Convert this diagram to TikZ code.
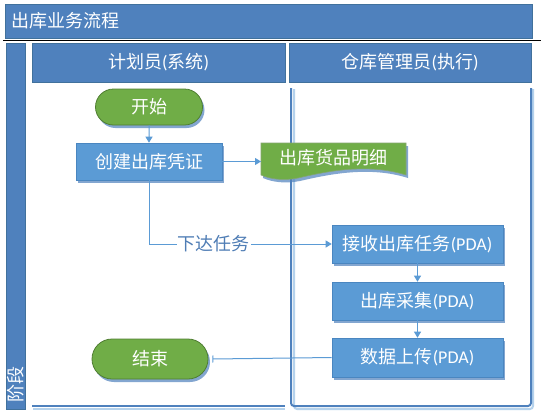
\documentclass[tikz,border=0pt]{standalone}
\usepackage{fontspec}
\setmainfont{Carlito}
\newfontfamily\cjk{Noto Sans CJK SC}
\usetikzlibrary{arrows.meta,shapes.misc,shadows}
\definecolor{hdr}{HTML}{4F81BD}
\definecolor{hdrline}{HTML}{41719C}
\definecolor{boxc}{HTML}{5B9BD5}
\definecolor{boxline}{HTML}{4A86C0}
\definecolor{grn}{HTML}{70AD47}
\definecolor{grnline}{HTML}{507E32}
\definecolor{shd}{HTML}{4F81BD}
\definecolor{lnk}{HTML}{5B9BD5}
\definecolor{lbl}{HTML}{4F7DB5}
\tikzset{
  hdrbox/.style={fill=hdr,draw=hdrline,line width=0.6pt},
  bigtext/.style={font=\fontsize{18}{20}\selectfont},
  hdrtext/.style={text=white,bigtext},
  myshadow/.style={drop shadow={shadow xshift=2pt,shadow yshift=-3pt,fill=shd,opacity=0.7}},
  stepbox/.style={rectangle,fill=boxc,draw=boxline,line width=0.6pt,text=white,
     bigtext,minimum width=171pt,minimum height=38pt,inner sep=0pt,myshadow},
  termbox/.style={rounded rectangle,fill=grn,draw=grnline,line width=0.8pt,text=white,
     bigtext,inner sep=0pt,myshadow},
  link/.style={draw=lnk,line width=1pt,-{Triangle[length=6pt,width=7pt]}},
  laneline/.style={draw=hdr,line width=2pt},
  laneshd/.style={draw=boxc!45,line width=2pt},
}
\begin{document}
\begin{tikzpicture}[x=1pt,y=-1pt]
\useasboundingbox (0,0) rectangle (541,418);
\fill[white] (0,0) rectangle (541,418);
% title
\path[hdrbox] (5,4) rectangle (532,38);
\node[hdrtext,anchor=west] (title) at (8,21) {\cjk 出库业务流程};
\draw[black,line width=0.9pt] (3,40.5) -- (541,40.5);
% left bar
\path[hdrbox] (6,43) rectangle (25,409);
\node[hdrtext,rotate=90] (phase) at (16,384) {\cjk 阶段};
% lane headers
\path[hdrbox] (32,43) rectangle (285,82);
\node[hdrtext] (lane1) at (158.5,62.5) {{\cjk 计划员}({\cjk 系统})};
\path[hdrbox] (289,43) rectangle (531,82);
\node[hdrtext] (lane2) at (410,62.5) {{\cjk 仓库管理员}({\cjk 执行})};
% lane bodies
\draw[laneshd] (33,409) -- (285,409);
\draw[laneshd,rounded corners=3pt] (294,89) -- (294,409) -- (533,409) -- (533,89);
\draw[laneline] (32,406) -- (285,406);
\draw[laneline,rounded corners=3pt] (291,88) -- (291,406) -- (531,406) -- (531,88);
% nodes
\node[termbox,minimum width=107pt,minimum height=36pt] (start) at (149,107) {\cjk 开始};
\node[stepbox,minimum width=146pt,minimum height=37pt] (create) at (149,161.5) {\cjk 创建出库凭证};
% document shape
\path[fill=shd,opacity=0.7] (263,146) -- (408,146) -- (408,178)
   .. controls (370,166) and (330,174) .. (300,181) .. controls (285,184) and (272,182) .. (263,178) -- cycle;
\path[fill=grn,draw=grnline!70!white,line width=0.6pt] (261,143) -- (406,143) -- (406,175)
   .. controls (368,163) and (328,171) .. (298,178) .. controls (283,181) and (270,179) .. (261,175) -- cycle;
\node[text=white,bigtext] (doc) at (333.5,157.5) {\cjk 出库货品明细};
\coordinate (docin) at (261,161.5);
\node[stepbox] (recv) at (417.5,244) {{\cjk 接收出库任务}(PDA)};
\node[stepbox] (collect) at (417.5,301) {{\cjk 出库采集}(PDA)};
\node[stepbox,minimum height=39pt] (upload) at (417.5,357.5) {{\cjk 数据上传}(PDA)};
\node[termbox,minimum width=116pt,minimum height=40pt] (end) at (150,359) {\cjk 结束};
% connectors
\draw[link] (start) -- (create);
\draw[link] (create.east) -- (docin);
\coordinate (bend) at (149,244);
\draw[link] (create.south) -- (bend) -- (recv.west)
  node[pos=0.355,fill=white,inner sep=1pt,text=lbl,bigtext] (task) {\cjk 下达任务};
\draw[link] (recv) -- (collect);
\draw[link] (collect) -- (upload);
\draw[draw=lnk,line width=1pt,-{Bar[width=7pt,line width=1pt]}] (upload.west) -- ([xshift=4pt]end.east);
\end{tikzpicture}
\end{document}
